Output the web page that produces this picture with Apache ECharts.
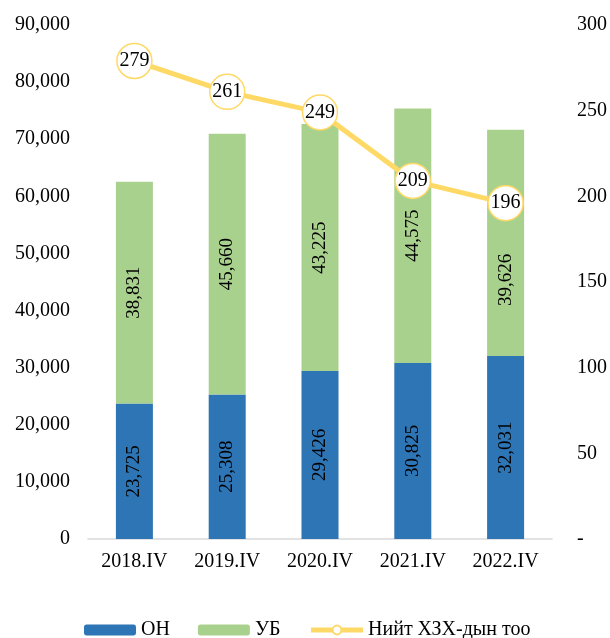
<!DOCTYPE html>
<html>
<head>
<meta charset="utf-8">
<script src="https://cdn.jsdelivr.net/npm/echarts@6/dist/echarts.min.js"></script>
<style>
  html, body { margin: 0; padding: 0; background: #fff; }
  #chart { width: 610px; height: 638px; }
</style>
</head>
<body>
<div id="chart"></div>
<script>
  // ангилал ба утгууд
  var categories = ['2018.IV', '2019.IV', '2020.IV', '2021.IV', '2022.IV']
  var onValues = [23725, 25308, 29426, 30825, 32031]       // ОН
  var ubValues = [38831, 45660, 43225, 44575, 39626]       // УБ
  var totalCount = [279, 261, 249, 209, 196]               // Нийт ХЗХ-дын тоо

  var font = '"Liberation Serif", "Times New Roman", serif'
  var fmt = function (v) { return v.toLocaleString('en-US') }

  // сүүлийн баганын шошгыг тойргоос доош зөөнө (эргүүлсэн тул x тэнхлэгээр)
  var ubData = ubValues.map(function (v, i) {
    return i === ubValues.length - 1 ? { value: v, label: { offset: [-37, 0] } } : v
  })

  var chart = echarts.init(document.getElementById('chart'))
  chart.setOption({
    animation: false,
    textStyle: { fontFamily: font, color: '#000' },
    grid: { left: 88, right: 57, top: 25, bottom: 99 },
    legend: {
      top: 615,
      left: 79,
      itemWidth: 52,
      itemHeight: 11,
      itemGap: 28,
      textStyle: { fontFamily: font, fontSize: 20, color: '#000' },
      data: [
        'ОН',
        'УБ',
        { name: 'Нийт ХЗХ-дын тоо', lineStyle: { width: 5 }, itemStyle: { borderWidth: 2 } }
      ]
    },
    xAxis: {
      type: 'category',
      data: categories,
      axisLine: { lineStyle: { color: '#D9D9D9', width: 1.5 } },
      axisTick: { show: false },
      axisLabel: { fontFamily: font, fontSize: 20, color: '#000', margin: 13 }
    },
    yAxis: [
      {
        type: 'value',
        min: 0, max: 90000, interval: 10000,
        splitLine: { show: false },
        axisLine: { show: false },
        axisLabel: { fontFamily: font, fontSize: 20, color: '#000', margin: 18, formatter: fmt }
      },
      {
        type: 'value',
        min: 0, max: 300, interval: 50,
        splitLine: { show: false },
        axisLine: { show: false },
        axisLabel: {
          fontFamily: font, fontSize: 20, color: '#000', margin: 25,
          formatter: function (v) { return v === 0 ? '-' : v }
        }
      }
    ],
    series: [
      {
        name: 'ОН',
        type: 'bar',
        stack: 'total',
        barWidth: 37,
        itemStyle: { color: '#2E75B6' },
        label: {
          show: true, position: 'inside', rotate: 90,
          fontFamily: font, fontSize: 19, color: '#000', formatter: function (p) { return fmt(p.value) }
        },
        data: onValues
      },
      {
        name: 'УБ',
        type: 'bar',
        stack: 'total',
        barWidth: 37,
        itemStyle: { color: '#A9D18E' },
        label: {
          show: true, position: 'inside', rotate: 90,
          fontFamily: font, fontSize: 19, color: '#000', formatter: function (p) { return fmt(p.value) }
        },
        data: ubData
      },
      {
        name: 'Нийт ХЗХ-дын тоо',
        type: 'line',
        yAxisIndex: 1,
        symbol: 'circle',
        symbolSize: 35,
        lineStyle: { color: '#FFD966', width: 5 },
        itemStyle: { color: '#fff', borderColor: '#FFD966', borderWidth: 1.5 },
        label: { show: true, position: 'inside', fontFamily: font, fontSize: 20, color: '#000' },
        z: 5,
        data: totalCount
      }
    ]
  })
</script>
</body>
</html>
